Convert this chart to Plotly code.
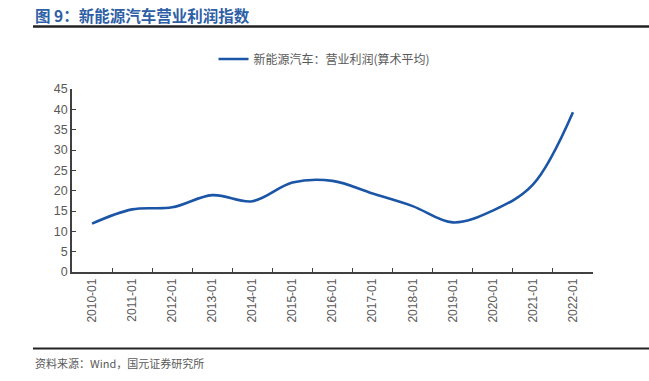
import plotly.graph_objects as go

categories = ["2010-01", "2011-01", "2012-01", "2013-01", "2014-01", "2015-01", "2016-01",
              "2017-01", "2018-01", "2019-01", "2020-01", "2021-01", "2022-01"]
profit_index = [11.9, 15.4, 15.9, 18.9, 17.4, 22.0, 22.4, 19.3, 16.2, 12.2, 15.1, 21.5, 39.3]
series_name = "新能源汽车：营业利润(算术平均)"
title_text = "图 9：新能源汽车营业利润指数"
source_text = "资料来源：Wind，国元证券研究所"

W, H = 649, 381
L, R, T, B = 72, 56, 89, 109
PW, PH = W - L - R, H - T - B


def px_x(x):
    return (x - L) / PW


def px_y(y):
    return (H - B - y) / PH


CJK = "Noto Sans CJK SC, Liberation Sans, Arial, sans-serif"
LAT = "Liberation Sans, Arial, Noto Sans CJK SC, sans-serif"

fig = go.Figure()
fig.add_trace(go.Scatter(
    x=categories, y=profit_index, mode="lines", name=series_name,
    line=dict(color="#1B56A6", width=2.6, shape="spline", smoothing=1.0),
))

fig.update_layout(
    width=W, height=H,
    margin=dict(l=L, r=R, t=T, b=B, autoexpand=False),
    paper_bgcolor="white", plot_bgcolor="white",
    showlegend=True,
    legend=dict(orientation="h", xref="container", yref="container",
                x=0.5, xanchor="center", y=1 - 59 / H, yanchor="middle",
                font=dict(family=CJK, size=12, color="#595959"),
                bgcolor="rgba(0,0,0,0)"),
    xaxis=dict(type="category", range=[-0.5, 12.5], tickson="boundaries",
               ticks="inside", ticklen=4, tickcolor="#404040", tickwidth=1.2,
               showline=True, linecolor="#404040", linewidth=1.5,
               showgrid=False, zeroline=False, tickangle=-90, automargin=False,
               tickfont=dict(family=LAT, size=12, color="#595959")),
    yaxis=dict(range=[0, 45], dtick=5, ticks="inside", ticklen=4,
               tickcolor="#404040", tickwidth=1.2, automargin=False,
               showline=True, linecolor="#404040", linewidth=1.5,
               showgrid=False, zeroline=False,
               tickfont=dict(family=LAT, size=12.5, color="#595959")),
)

fig.add_annotation(text="<b>" + title_text + "</b>", xref="paper", yref="paper",
                   x=px_x(33), y=px_y(15), xanchor="left", yanchor="middle",
                   showarrow=False, font=dict(family=CJK, size=15.5, color="#2E5FA6"))
fig.add_annotation(text=source_text, xref="paper", yref="paper",
                   x=px_x(33), y=px_y(363), xanchor="left", yanchor="middle",
                   showarrow=False, font=dict(family=CJK, size=11, color="#595959"))
fig.add_shape(type="line", xref="paper", yref="paper",
              x0=px_x(33), x1=px_x(649), y0=px_y(26.5), y1=px_y(26.5),
              line=dict(color="#222222", width=2.5))
fig.add_shape(type="line", xref="paper", yref="paper",
              x0=px_x(33), x1=px_x(649), y0=px_y(348.5), y1=px_y(348.5),
              line=dict(color="#222222", width=2.2))

fig.write_html("out.html", config={"displayModeBar": False},
               post_script="document.body.style.margin='0';document.body.style.padding='0';")
